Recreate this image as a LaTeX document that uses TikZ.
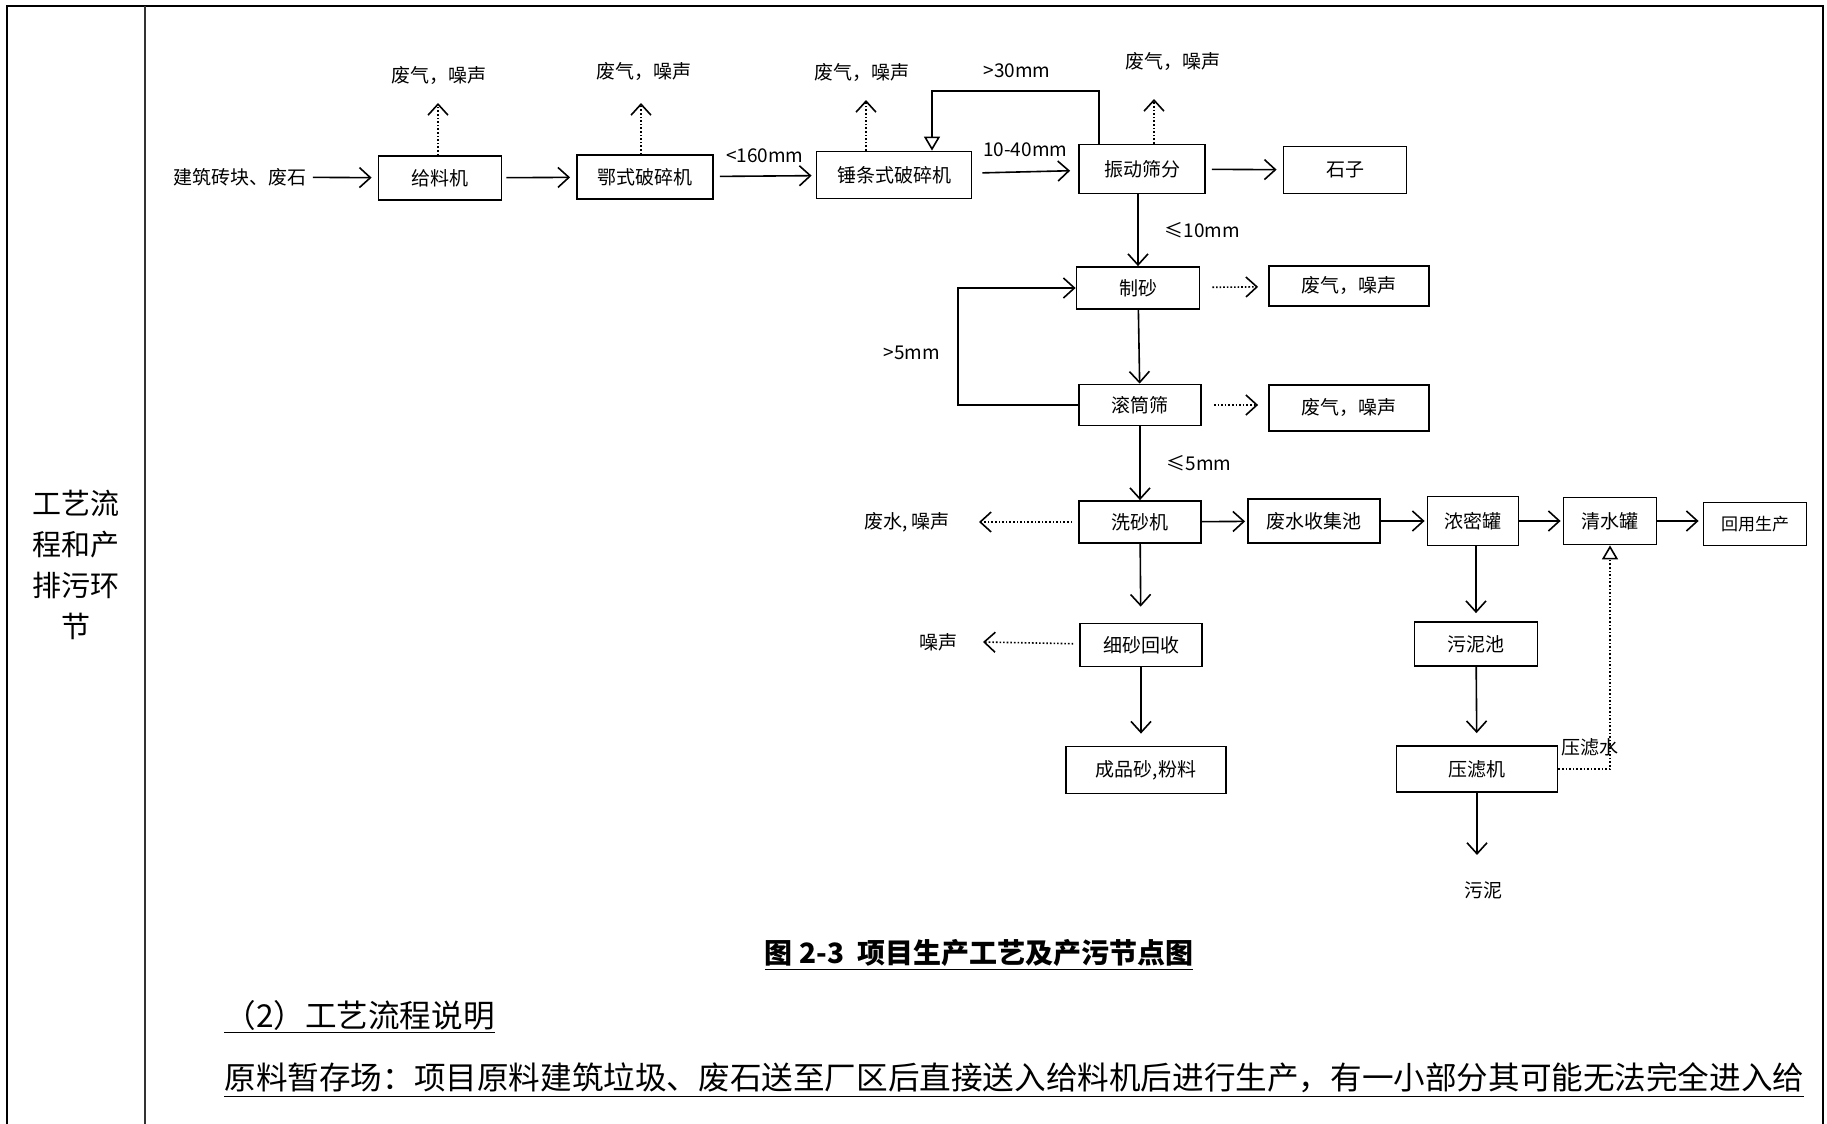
\documentclass[tikz,border=0pt]{standalone}
\usepackage{fontspec}
\setmainfont{Noto Sans CJK SC}
\usepackage{tikz}
\usetikzlibrary{arrows.meta}

\begin{document}
\begin{tikzpicture}[x=0.5pt,y=-0.5pt,
  font=\fontsize{9.5}{11}\selectfont,
  box/.style={draw,line width=0.9pt,inner sep=1pt,minimum width=61.5pt,minimum height=22pt},
  lbl/.style={inner sep=1pt},
  arr/.style={-{Straight Barb[length=5.5pt,width=10pt]},line width=0.8pt},
  darr/.style={arr,densely dotted},
  ret/.style={-{Triangle[open,length=7pt,width=8pt]},line width=0.8pt}]
\useasboundingbox (0,0) rectangle (1827,1124);
% table frame
\draw[line width=1.3pt] (7,1124) -- (7,6) -- (1823,6) -- (1823,1124);
\draw[line width=1pt,black!80] (145,6) -- (145,1124);
\node[align=center,font=\fontsize{14.5}{20.5}\selectfont] (cell) at (76,565) {工艺流\\程和产\\排污环\\节};
% top row
\node[lbl] (src) at (240,177) {建筑砖块、废石};
\node[box] (b1) at (440,178) {给料机};
\node[box,minimum width=68pt] (b2) at (645,177) {鄂式破碎机};
\node[box,minimum width=77.5pt,minimum height=23.5pt] (b3) at (894,175) {锤条式破碎机};
\node[box,minimum width=63pt,minimum height=24.5pt] (b4) at (1142,169) {振动筛分};
\node[box,minimum height=23.5pt] (b5) at (1345,170) {石子};
\draw[arr,shorten <=2pt,shorten >=3pt] (src) -- (b1);
\draw[arr,shorten <=2pt,shorten >=3pt] (b1) -- (b2);
\draw[arr,shorten <=3pt,shorten >=2pt] (b2) -- (b3) node[lbl,midway,above=5pt] {<160mm};
\draw[arr,shorten <=5pt,shorten >=4pt] (b3) -- (b4) node[lbl,midway,above=6pt] {10-40mm};
\draw[arr,shorten <=3pt,shorten >=3pt] (b4) -- (b5);
% emissions above
\node[lbl] (g1) at (439,76) {废气，噪声};
\node[lbl] (g2) at (644,72) {废气，噪声};
\node[lbl] (g3) at (862,73) {废气，噪声};
\node[lbl] (g4) at (1173,62) {废气，噪声};
\coordinate (t1) at (438,103);
\coordinate (t2) at (641,103);
\coordinate (t3) at (866,100);
\coordinate (t4) at (1154,99);
\draw[darr] (b1.north -| t1) -- (t1);
\draw[darr] (b2.north -| t2) -- (t2);
\draw[darr] (b3.north -| t3) -- (t3);
\draw[darr] (b4.north -| t4) -- (t4);
% return >30mm
\coordinate (k1) at (1099,91);
\coordinate (k2) at (932,91);
\draw[ret] (b4.north -| k1) -- (k1) -- (k2) -- (k2 |- b3.north);
\node[lbl] (l30) at (1017,71) {>30mm};
% sand making
\node[box,minimum height=21pt] (b6) at (1138,288) {制砂};
\node[box,minimum width=80pt,minimum height=20pt] (b7) at (1349,286) {废气，噪声};
\node[box,minimum width=61pt,minimum height=20.5pt] (b8) at (1140,405) {滚筒筛};
\node[box,minimum width=80pt,minimum height=23pt] (b9) at (1349,408) {废气，噪声};
\draw[arr] (b4.south -| b6) -- (b6) node[lbl,midway,right=12pt] {≤10mm};
\draw[darr,shorten <=6pt,shorten >=5pt] (b6) -- (b7);
\draw[arr] (b6) -- (b8);
\draw[darr,shorten <=6pt,shorten >=5pt] (b8.east) -- (b9.west |- b8.east);
\draw[arr] (b8.west) -- ++(-120,0) |- (b6.west);
\node[lbl] (l5a) at (912,353) {>5mm};
% washing
\node[box,minimum width=61pt,minimum height=21pt] (b10) at (1140,522) {洗砂机};
\node[box,minimum width=66pt] (b11) at (1314,521) {废水收集池};
\node[box,minimum width=45.5pt,minimum height=24.5pt] (b12) at (1473,521) {浓密罐};
\node[box,minimum width=46.5pt,minimum height=23.5pt] (b13) at (1610,521) {清水罐};
\node[box,minimum width=51.5pt,minimum height=21.5pt,font=\fontsize{8.5}{10}\selectfont] (b14) at (1755,524) {回用生产};
\node[lbl] (w1) at (907,522) {废水, 噪声};
\draw[arr] (b8) -- (b10) node[lbl,midway,right=12pt] {≤5mm};
\draw[darr,shorten <=3pt] (b10) -- (w1.east -| 979,0);
\draw[arr,shorten >=1pt] (b10) -- (b11);
\draw[arr,shorten >=1pt] (b11) -- (b12);
\draw[arr,shorten >=1pt] (b12) -- (b13);
\draw[arr,shorten >=2pt] (b13) -- (b14.west |- b13);
% fine sand
\node[box,minimum width=61pt,minimum height=21.5pt] (b15) at (1141,645) {细砂回收};
\node[box,minimum width=80pt,minimum height=23.5pt] (b16) at (1146,770) {成品砂,粉料};
\node[lbl] (w2) at (938,642) {噪声};
\draw[arr,shorten >=8pt] (b10) -- (b15);
\draw[darr,shorten <=3pt] (b15) -- (w2.east -| 983,0);
\draw[arr,shorten >=6pt] (b15) -- (b15 |- b16.north);
% sludge
\node[box,minimum height=22pt] (b17) at (1476,644) {污泥池};
\node[box,minimum width=80.5pt,minimum height=23pt] (b18) at (1477,769) {压滤机};
\node[lbl] (w3) at (1483,890) {污泥};
\draw[arr,shorten >=4pt] (b12.south -| b17) -- (b17);
\draw[arr,shorten >=6pt] (b17) -- (b18);
\draw[arr,shorten >=12pt] (b18) -- (b18.south |- w3.north);
\draw[ret,densely dotted] (b18.east) -| (b13.south);
\node[lbl] (w4) at (1590,747) {压滤水};
% caption and text
\node[font=\fontsize{14}{16}\selectfont\bfseries] (cap) at (979,955) {\underline{图 2-3\ \ 项目生产工艺及产污节点图}};
\node[anchor=west,inner sep=0pt,font=\fontsize{15.8}{18}\selectfont] (sub) at (224,1017) {\underline{（2）工艺流程说明}};
\node[anchor=west,inner sep=0pt,font=\fontsize{15.8}{18}\selectfont] (para) at (224,1080) {\underline{原料暂存场：项目原料建筑垃圾、废石送至厂区后直接送入给料机后进行生产，有一小部分其可能无法完全进入给}};
\end{tikzpicture}
\end{document}
